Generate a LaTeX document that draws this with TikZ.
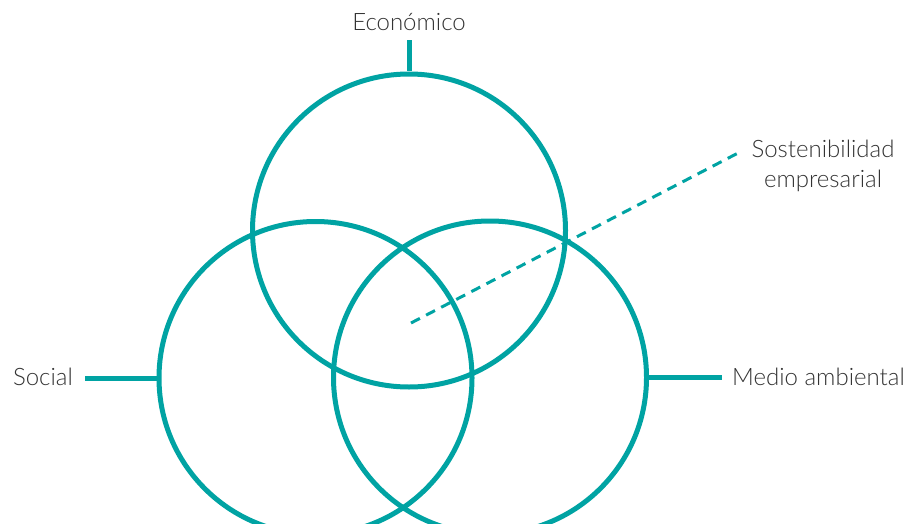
\documentclass[tikz,border=0pt]{standalone}
\usepackage{fontspec}
\setmainfont{Lato}[UprightFont=* Light]
\definecolor{teal}{RGB}{0,163,163}
\begin{document}
\begin{tikzpicture}[x=1pt,y=-1pt,
  ring/.style={circle,draw=teal,line width=5pt,minimum size=#1,inner sep=0pt},
  link/.style={draw=teal,line width=5pt},
  dashlink/.style={draw=teal,line width=3pt,dash pattern=on 10pt off 7pt},
  lbl/.style={text=black!80,font=\fontsize{24}{30}\selectfont,inner sep=0pt}]
\useasboundingbox (0,0) rectangle (909,524);
% the three pillars
\node[ring=313pt] (eco) at (409,230.5) {};
\node[ring=313pt] (soc) at (315.5,378) {};
\node[ring=313pt] (env) at (490,377.5) {};
% labels
\node[lbl] (ecoL) at (409,22) {Económico};
\node[lbl,anchor=east] (socL) at (73,377) {Social};
\node[lbl,anchor=west] (envL) at (732,377) {Medio ambiental};
\node[lbl,align=center] (susL) at (823,166) {Sostenibilidad\\empresarial};
% connector ends
\coordinate (ecoEnd) at (409,40);
\coordinate (socEnd) at (85,378);
\coordinate (envEnd) at (722,377.5);
\coordinate (core) at (411,323);
\coordinate (susEnd) at (740,152);
\draw[link] (eco.north) -- (ecoEnd);
\draw[link] (soc.west) -- (socEnd);
\draw[link] (env.east) -- (envEnd);
\draw[dashlink] (core) -- (susEnd);
\end{tikzpicture}
\end{document}
